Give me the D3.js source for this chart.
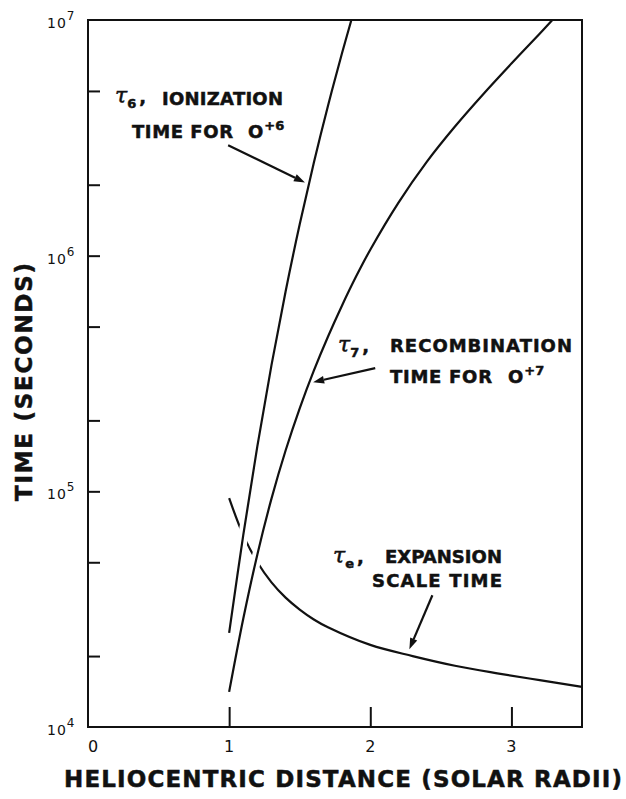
<!DOCTYPE html>
<html>
<head>
<meta charset="utf-8">
<script src="https://cdn.jsdelivr.net/npm/d3@7"></script>
<style>
  html, body { margin: 0; padding: 0; background: #fff; }
  svg { display: block; }
  text { font-family: "DejaVu Sans", sans-serif; fill: #111; }
</style>
</head>
<body>
<svg id="chart" width="626" height="799"></svg>
<script>
// Heliocentric distance (solar radii) and characteristic times (s)
const distanceIon = [1.0, 1.1, 1.2, 1.3, 1.4, 1.5, 1.6, 1.7, 1.8, 1.866];
const tauIonization = [2.51e4, 6.52e4, 1.556e5, 3.43e5, 7.05e5, 1.358e6, 2.48e6, 4.32e6, 7.24e6, 1.0e7];

const distanceRec = [1.0, 1.1, 1.2, 1.3, 1.4, 1.5, 1.6, 1.7, 1.8, 1.9, 2.0, 2.2, 2.4, 2.6, 2.8, 3.0, 3.2, 3.29];
const tauRecombination = [1.41e4, 2.88e4, 5.40e4, 9.31e4, 1.49e5, 2.25e5, 3.25e5, 4.53e5, 6.15e5, 8.17e5,
  1.06e6, 1.68e6, 2.50e6, 3.53e6, 4.84e6, 6.53e6, 8.75e6, 1.0e7];

const distanceExp = [1.0, 1.1, 1.2, 1.3, 1.4, 1.5, 1.6, 1.7, 2.0, 2.3, 2.6, 2.9, 3.2, 3.5];
const tauExpansion = [9.35e4, 6.52e4, 5.0e4, 4.11e4, 3.54e4, 3.15e4, 2.86e4, 2.65e4, 2.23e4, 2.0e4, 1.82e4, 1.69e4, 1.58e4, 1.48e4];

const xTickValues = [0, 1, 2, 3];
const xTickLabels = ["0", "1", "2", "3"];
const yDecades = [1e4, 1e5, 1e6, 1e7];
const yDecadeExponents = ["4", "5", "6", "7"];
const yMinorTicks = [2e4, 5e4, 2e5, 5e5, 2e6, 5e6];

const W = 626, H = 799;
const margin = { top: 20, right: 44, bottom: 72, left: 88 };
const svg = d3.select("#chart");

const x = d3.scaleLinear().domain([0, 3.5]).range([margin.left, W - margin.right]);
const y = d3.scaleLog().domain([1e4, 1e7]).range([H - margin.bottom, margin.top]);

const line = d3.line()
  .x(d => x(d[0]))
  .y(d => y(d[1]))
  .curve(d3.curveCatmullRom.alpha(0.5));

const ionPts = d3.zip(distanceIon, tauIonization);
const recPts = d3.zip(distanceRec, tauRecombination);
const expPts = d3.zip(distanceExp, tauExpansion);

const curves = svg.append("g");

// expansion time drawn first; the steep curves cut small gaps through it
curves.append("path").attr("d", line(expPts))
  .attr("fill", "none").attr("stroke", "#111").attr("stroke-width", 2.2);

[ionPts, recPts].forEach(p => {
  curves.append("path").attr("d", line(p))
    .attr("fill", "none").attr("stroke", "#fff").attr("stroke-width", 10);
});
[ionPts, recPts].forEach(p => {
  curves.append("path").attr("d", line(p))
    .attr("fill", "none").attr("stroke", "#111").attr("stroke-width", 2.2);
});

// frame
svg.append("rect")
  .attr("x", x(0)).attr("y", y(1e7))
  .attr("width", x(3.5) - x(0)).attr("height", y(1e4) - y(1e7))
  .attr("fill", "none").attr("stroke", "#111").attr("stroke-width", 2);

// x axis: inward ticks and labels
const xAxis = d3.axisBottom(x).tickValues(xTickValues.filter(v => v > 0))
  .tickSizeInner(-20).tickSizeOuter(0).tickFormat("");
const gx = svg.append("g").attr("transform", `translate(0,${y(1e4)})`).call(xAxis);
gx.select(".domain").remove();
gx.selectAll(".tick line").attr("stroke", "#111").attr("stroke-width", 2);

svg.append("g").selectAll("text").data(xTickValues).join("text")
  .attr("x", d => x(d) + (d === 0 ? 5 : 0))
  .attr("y", y(1e4) + 25)
  .attr("text-anchor", "middle")
  .attr("font-size", 16)
  .text((d, i) => xTickLabels[i]);

// y axis: inward ticks at decades and at 2, 5
const yAxis = d3.axisLeft(y).tickValues(yDecades.slice(1, 3).concat(yMinorTicks))
  .tickSizeInner(-12).tickSizeOuter(0).tickFormat("");
const gy = svg.append("g").attr("transform", `translate(${x(0)},0)`).call(yAxis);
gy.select(".domain").remove();
gy.selectAll(".tick line").attr("stroke", "#111").attr("stroke-width", 2);

const yl = svg.append("g").selectAll("text").data(yDecades).join("text")
  .attr("x", x(0) - 41).attr("y", d => y(d) + 8)
  .attr("font-size", 14);
yl.append("tspan").attr("letter-spacing", 1).text("10");
yl.append("tspan").attr("dy", -8).attr("font-size", 12)
  .text((d, i) => yDecadeExponents[i]);

// axis titles
const heavy = sel => sel.attr("font-weight", "bold").attr("stroke", "#111").attr("stroke-width", 0.5);

svg.append("text")
  .attr("x", 64).attr("y", 787)
  .attr("font-size", 23).call(heavy)
  .attr("textLength", 558).attr("lengthAdjust", "spacing")
  .text("HELIOCENTRIC  DISTANCE (SOLAR RADII)");

svg.append("text")
  .attr("transform", `translate(32,382) rotate(-90)`)
  .attr("text-anchor", "middle")
  .attr("font-size", 23).call(heavy)
  .attr("textLength", 238).attr("lengthAdjust", "spacing")
  .text("TIME (SECONDS)");

// annotations
function tauLabel(px, py, sub) {
  const t = svg.append("text").attr("x", px).attr("y", py);
  t.append("tspan").attr("font-size", 22).attr("font-family", "DejaVu Serif")
    .attr("font-style", "italic").attr("stroke", "#111").attr("stroke-width", 0.5).text("τ");
  t.append("tspan").attr("dy", 5).attr("font-size", 13).call(heavy).text(sub);
  t.append("tspan").attr("dy", -5).attr("dx", 3).attr("font-size", 18).call(heavy).text(",");
  return t;
}
function word(px, py, txt, len) {
  return svg.append("text").attr("x", px).attr("y", py)
    .attr("font-size", 18).call(heavy)
    .attr("textLength", len).attr("lengthAdjust", "spacing")
    .text(txt);
}
function oxygen(px, py, charge) {
  const t = svg.append("text").attr("x", px).attr("y", py)
    .attr("font-size", 18).call(heavy);
  t.append("tspan").text("O");
  t.append("tspan").attr("dy", -8).attr("dx", 1).attr("font-size", 13).text(charge);
  return t;
}
function arrow(x1, y1, x2, y2) {
  const a = Math.atan2(y2 - y1, x2 - x1);
  const L = 11, w = 3.8;
  const bx = x2 - L * Math.cos(a), by = y2 - L * Math.sin(a);
  svg.append("line").attr("x1", x1).attr("y1", y1).attr("x2", bx).attr("y2", by)
    .attr("stroke", "#111").attr("stroke-width", 2.2);
  svg.append("path")
    .attr("d", `M${x2},${y2}L${bx - w * Math.sin(a)},${by + w * Math.cos(a)}L${bx + w * Math.sin(a)},${by - w * Math.cos(a)}Z`)
    .attr("fill", "#111");
}
const at = (d, lg) => [x(d), y(Math.pow(10, lg))];

// ionization of O+6
tauLabel(115, 103, "6");
word(162, 105, "IONIZATION", 121);
word(132, 138, "TIME FOR", 101);
oxygen(248, 138, "+6");
arrow(...at(0.993, 6.469), ...at(1.537, 6.31));

// recombination of O+7
tauLabel(338, 352, "7");
word(390, 352, "RECOMBINATION", 182);
word(390, 383, "TIME FOR", 102);
oxygen(508, 383, "+7");
arrow(...at(2.035, 5.523), ...at(1.595, 5.463));

// expansion scale time
tauLabel(333, 563, "e");
word(385, 563, "EXPANSION", 117);
word(372, 587, "SCALE TIME", 130);
arrow(...at(2.44, 4.559), ...at(2.277, 4.33));
</script>
</body>
</html>
